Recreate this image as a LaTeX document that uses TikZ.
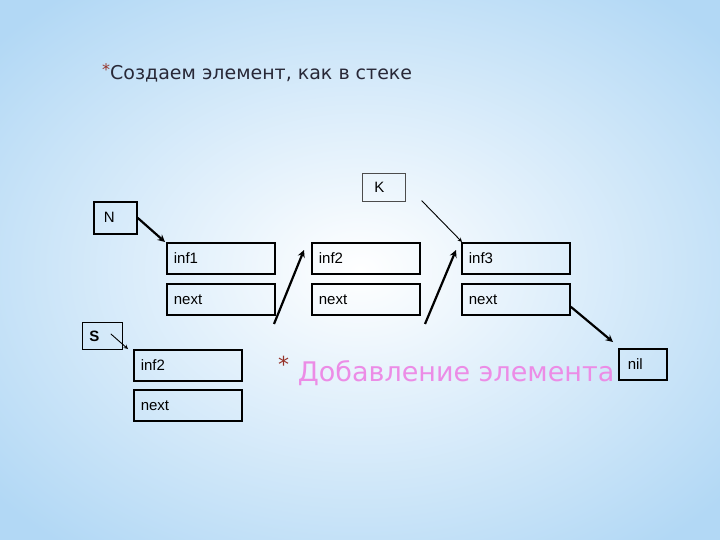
\documentclass[tikz,border=0pt]{standalone}
\usepackage{fontspec}
\setmainfont{DejaVu Sans}
\newfontfamily\boxfont{Liberation Sans}
\usetikzlibrary{arrows,positioning,calc}
\definecolor{bgblue}{RGB}{178,216,245}
\definecolor{starred}{RGB}{150,50,40}
\definecolor{titlegray}{RGB}{40,40,55}
\definecolor{addpink}{RGB}{236,140,230}
\tikzstyle{cell} = [draw, line width=1.8pt, anchor=north west, minimum width=108pt, minimum height=31pt, text width=94pt, inner sep=0pt, align=left, font=\boxfont\fontsize{15}{17}\selectfont]
\tikzstyle{ptr} = [draw, anchor=north west, inner sep=0pt, font=\boxfont\fontsize{15}{17}\selectfont]
\tikzstyle{link} = [-stealth, line width=2.2pt]
\tikzstyle{thinlink} = [-stealth, line width=0.9pt]

\begin{document}
\begin{tikzpicture}[x=1pt, y=-1pt]
      % background
      \useasboundingbox (0,0) rectangle (720,540);
      \fill[bgblue] (0,0) rectangle (720,540);
      \shade[inner color=white, outer color=bgblue] (-120,-80) rectangle (840,620);
      % headings
      \node (title) [anchor=base west, inner sep=0pt, font=\fontsize{19}{24}\selectfont, text=titlegray] at (102,80) {{\color{starred}\fontsize{16}{18}\selectfont\raisebox{4pt}{*}}Создаем элемент, как в стеке};
      \node (added) [anchor=base west, inner sep=0pt, font=\fontsize{27}{32}\selectfont, text=addpink] at (278,381) {{\color{starred}\fontsize{22}{24}\selectfont\raisebox{9pt}{*}} Добавление элемента};
      % list cells
      \node (inf1) [cell] at (166,242) {inf1};
      \node (next1) [cell] at (166,283) {next};
      \node (inf2) [cell] at (311,242) {inf2};
      \node (next2) [cell] at (311,283) {next};
      \node (inf3) [cell] at (461,242) {inf3};
      \node (next3) [cell] at (461,283) {next};
      \node (infS) [cell, line width=1.5pt] at (133,349) {inf2};
      \node (nextS) [cell, line width=1.5pt] at (133,389) {next};
      % pointers
      \node (K) [ptr, line width=0.6pt, draw=black!70, minimum width=43pt, minimum height=28pt, text width=35pt] at (362,173) {\hspace{8pt}K};
      \node (N) [ptr, line width=1.6pt, minimum width=43pt, minimum height=32pt, text width=35pt] at (93,201) {\hspace{6pt}N};
      \node (S) [ptr, line width=0.8pt, minimum width=40pt, minimum height=27pt, text width=34pt] at (82,322) {\hspace{4pt}\textbf{S}};
      \node (nil) [ptr, line width=1.6pt, minimum width=48pt, minimum height=31pt, text width=40pt] at (618,348) {\hspace{5pt}nil};
      % connectors
      \coordinate (a1) at (274,324);
      \coordinate (b1) at (304,250);
      \coordinate (a2) at (425,324);
      \coordinate (b2) at (456,250);
      \draw[link] (N.east) -- ([xshift=-1pt]inf1.north west);
      \draw[link] (a1) -- (b1);
      \draw[link] (a2) -- (b2);
      \draw[thinlink] ([xshift=16pt,yshift=1pt]K.south east) -- ([xshift=1pt]inf3.north west);
      \draw[link] ([yshift=9pt]next3.south east) -- ([xshift=-5pt,yshift=6pt]nil.north west);
      \draw[thinlink] ([xshift=-12pt,yshift=2pt]S.east) -- ([xshift=-5pt]infS.north west);
\end{tikzpicture}
\end{document}
